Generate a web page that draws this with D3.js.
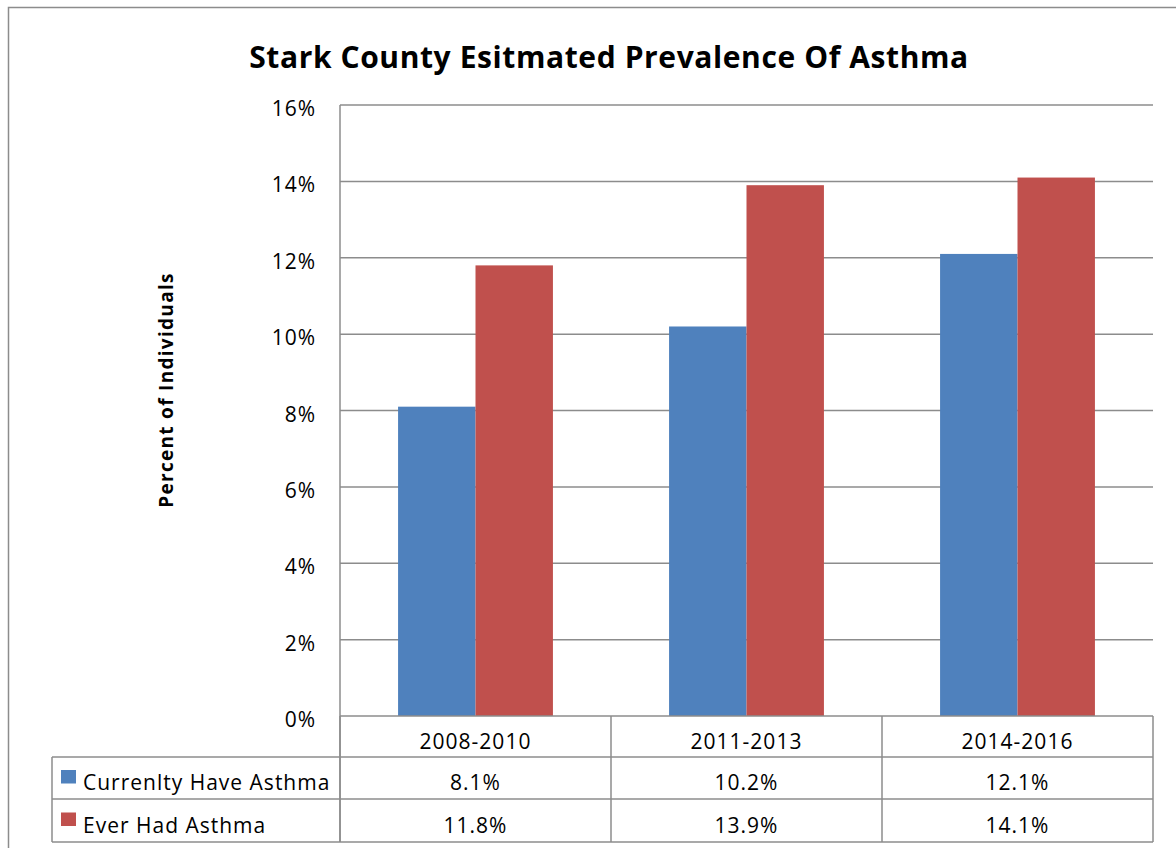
<!DOCTYPE html>
<html><head><meta charset="utf-8">
<script src="https://cdnjs.cloudflare.com/ajax/libs/d3/7.8.5/d3.min.js"></script>
<style>body{margin:0;background:#fff;}svg{display:block;}</style>
</head><body>
<script>
const categories = ["2008-2010", "2011-2013", "2014-2016"];
const seriesNames = ["Currenlty Have Asthma", "Ever Had Asthma"];
const currentlyHave = [8.1, 10.2, 12.1];
const everHad = [11.8, 13.9, 14.1];
const yTicks = [0, 2, 4, 6, 8, 10, 12, 14, 16];
const colors = ["#4F81BD", "#C0504D"];
const title = "Stark County Esitmated Prevalence Of Asthma";
const yLabel = "Percent of Individuals";

const W = 1176, H = 848;
const font = "'Open Sans', Lato, sans-serif";
const fs = 21;
const ls = 1;
const svg = d3.select("body").append("svg").attr("width", W).attr("height", H);

// outer frame
svg.append("rect").attr("x", 8.5).attr("y", 7.5).attr("width", W).attr("height", H)
  .attr("fill", "#fff").attr("stroke", "#8c8c8c").attr("stroke-width", 1.5);

const L = 340, R = 1153, T = 105, B = 716;
const x = d3.scaleBand().domain(categories).range([L, R]);
const y = d3.scaleLinear().domain([0, 16]).range([B, T]);
const bw = x.bandwidth() / 3.5;
const xs = d3.scaleBand().domain(seriesNames).range([0, 2 * bw]);

// gridlines
svg.append("g").selectAll("line").data(yTicks.filter(d => d > 0)).join("line")
  .attr("x1", L).attr("x2", R).attr("y1", d => y(d)).attr("y2", d => y(d))
  .attr("stroke", "#8c8c8c").attr("stroke-width", 1.5);

// y axis
const yAxis = d3.axisLeft(y).tickValues(yTicks).tickFormat(d => d + "%").tickSize(0).tickPadding(24);
const ya = svg.append("g").attr("transform", `translate(${L},0)`).call(yAxis);
ya.select(".domain").remove();
ya.selectAll("text").attr("font-family", font).attr("font-size", fs).attr("fill", "#000")
  .attr("dy", "0.5em").attr("letter-spacing", ls);

// bars
const data = [currentlyHave, everHad];
data.forEach((vals, si) => {
  svg.append("g").selectAll("rect").data(vals).join("rect")
    .attr("x", (d, i) => x(categories[i]) + (x.bandwidth() - 2 * bw) / 2 + xs(seriesNames[si]))
    .attr("y", d => y(d))
    .attr("width", bw)
    .attr("height", d => B - y(d))
    .attr("fill", colors[si]);
});

// table
const rowY = [716, 757, 799, 842];
const tg = svg.append("g").attr("stroke", "#8c8c8c").attr("stroke-width", 1.5);
tg.append("line").attr("x1", L).attr("x2", L).attr("y1", T).attr("y2", rowY[3]);
tg.append("line").attr("x1", L).attr("x2", R).attr("y1", B).attr("y2", B);
tg.append("line").attr("x1", R).attr("x2", R).attr("y1", B).attr("y2", rowY[3]);
categories.forEach(c => {
  tg.append("line").attr("x1", x(c)).attr("x2", x(c)).attr("y1", B).attr("y2", rowY[3]);
});
const legL = 52;
[rowY[1], rowY[2], rowY[3]].forEach(yy => {
  tg.append("line").attr("x1", legL).attr("x2", R).attr("y1", yy).attr("y2", yy);
});
tg.append("line").attr("x1", legL).attr("x2", legL).attr("y1", rowY[1]).attr("y2", rowY[3]);

// header labels
svg.append("g").selectAll("text").data(categories).join("text")
  .attr("x", d => x(d) + x.bandwidth() / 2).attr("y", (rowY[0] + rowY[1]) / 2 + 12)
  .attr("text-anchor", "middle").attr("font-family", font).attr("font-size", fs)
  .attr("letter-spacing", ls).text(d => d);

data.forEach((vals, si) => {
  const cy = (rowY[si + 1] + rowY[si + 2]) / 2;
  svg.append("rect").attr("x", 61).attr("y", cy - 8).attr("width", 15).attr("height", 13.5).attr("fill", colors[si]);
  svg.append("text").attr("x", 83).attr("y", cy + 12).attr("font-family", font).attr("font-size", fs)
    .attr("letter-spacing", ls).text(seriesNames[si]);
  svg.append("g").selectAll("text").data(vals).join("text")
    .attr("x", (d, i) => x(categories[i]) + x.bandwidth() / 2).attr("y", cy + 12)
    .attr("text-anchor", "middle").attr("font-family", font).attr("font-size", fs)
    .attr("letter-spacing", ls).text(d => d.toFixed(1) + "%");
});

// title
svg.append("text").attr("x", 609).attr("y", 68).attr("text-anchor", "middle")
  .attr("font-family", font).attr("font-weight", "bold").attr("font-size", 30)
  .attr("letter-spacing", 0.6).text(title);

// y label
svg.append("text").attr("transform", "translate(173,390) rotate(-90)").attr("text-anchor", "middle")
  .attr("font-family", font).attr("font-weight", "bold").attr("font-size", 19)
  .attr("letter-spacing", 1.3).text(yLabel);
</script>
</body></html>
